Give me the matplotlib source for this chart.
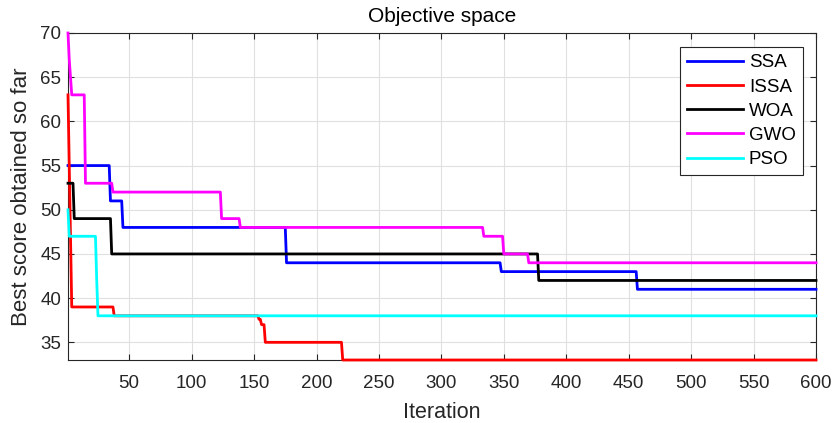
import numpy as np
import matplotlib
matplotlib.use("Agg")
import matplotlib.pyplot as plt

plt.rcParams['font.family'] = ['Liberation Sans', 'DejaVu Sans']

n_iter = 600
# Step change points: iteration where a new best value starts, and that value
ssa_it = [1, 35, 45, 176, 348, 457]
ssa_val = [55, 51, 48, 44, 43, 41]
issa_it = [1, 2, 3, 4, 38, 154, 156, 159, 221]
issa_val = [63, 55, 47, 39, 38, 37.6, 37, 35, 33]
woa_it = [1, 6, 36, 378]
woa_val = [53, 49, 45, 42]
gwo_it = [1, 2, 3, 4, 15, 37, 124, 139, 334, 350, 370]
gwo_val = [70, 67, 65, 63, 53, 52, 49, 48, 47, 45, 44]
pso_it = [1, 2, 24, 25]
pso_val = [50, 47, 42, 38]

labels = ['SSA', 'ISSA', 'WOA', 'GWO', 'PSO']
colors = ['#0000ff', '#ff0000', '#000000', '#ff00ff', '#00ffff']
xticks = list(range(50, 601, 50))
yticks = list(range(35, 71, 5))


def expand(its, vals):
    its = list(its) + [n_iter + 1]
    counts = np.diff(its)
    return np.repeat(vals, counts)


x = np.arange(1, n_iter + 1)
series = [expand(ssa_it, ssa_val), expand(issa_it, issa_val),
          expand(woa_it, woa_val), expand(gwo_it, gwo_val),
          expand(pso_it, pso_val)]

fig = plt.figure(figsize=(8.33, 4.23), dpi=100)
ax = fig.add_axes([68 / 833, 1 - 360 / 423, (816 - 68) / 833, (360 - 33) / 423])

for y, c, lab in zip(series, colors, labels):
    ax.plot(x, y, color=c, lw=2.0, label=lab, clip_on=False, zorder=3)

ax.set_xlim(1, 600)
ax.set_ylim(33, 70)
ax.set_xticks(xticks)
ax.set_yticks(yticks)
ax.grid(True, color='#e0e0e0', lw=0.8)
ax.set_axisbelow(True)
ax.tick_params(direction='in', length=4, width=0.8, top=True, right=True,
               labelsize=13.5, colors='#262626')
ax.tick_params(axis='x', pad=11)
ax.tick_params(axis='y', pad=5)
for s in ax.spines.values():
    s.set_color('#262626')
    s.set_linewidth(0.8)

ax.set_title('Objective space', fontsize=15, color='#000000', pad=8)
ax.set_xlabel('Iteration', fontsize=15.5, color='#262626', labelpad=7)
ax.set_ylabel('Best score obtained so far', fontsize=16, color='#262626', labelpad=6)

leg = ax.legend(loc='upper right', bbox_to_anchor=(803 / 833, 1 - 47 / 423),
                bbox_transform=fig.transFigure, fontsize=13.5, frameon=True,
                fancybox=False, edgecolor='#262626', framealpha=1,
                handlelength=3.0, handletextpad=0.3, labelspacing=0.38,
                borderpad=0.38, borderaxespad=0)
leg.get_frame().set_linewidth(0.8)

fig.savefig('out.png', dpi=100)
